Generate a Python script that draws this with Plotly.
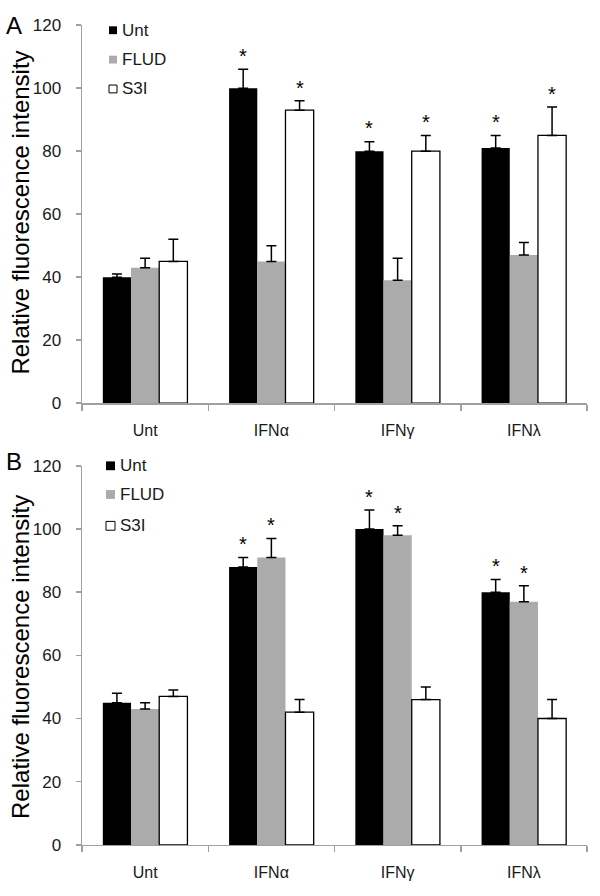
import plotly.graph_objects as go

W, H = 600, 896
FONT = "Liberation Sans, Arial, sans-serif"

categories = ["Unt", "IFNα", "IFNγ", "IFNλ"]
series_names = ["Unt", "FLUD", "S3I"]

# Panel A
a_unt = [40, 100, 80, 81]
a_unt_err = [1, 6, 3, 4]
a_flud = [43, 45, 39, 47]
a_flud_err = [3, 5, 7, 4]
a_s3i = [45, 93, 80, 85]
a_s3i_err = [7, 3, 5, 9]
a_star = [[False, True, True, True], [False, False, False, False], [False, True, True, True]]

# Panel B
b_unt = [45, 88, 100, 80]
b_unt_err = [3, 3, 6, 4]
b_flud = [43, 91, 98, 77]
b_flud_err = [2, 6, 3, 5]
b_s3i = [47, 42, 46, 40]
b_s3i_err = [2, 4, 4, 6]
b_star = [[False, True, True, True], [False, True, True, True], [False, False, False, False]]

y_ticks = [0, 20, 40, 60, 80, 100, 120]

colors = ["#000000", "#ababab", "#ffffff"]
line_w = [0, 0, 1.3]

def px(x):
    return x / W

def py(y):
    return 1 - y / H

X_DOM = [px(82), px(587)]
panels = [
    dict(vals=[a_unt, a_flud, a_s3i], errs=[a_unt_err, a_flud_err, a_s3i_err], stars=a_star,
         ydom=[py(402.7), py(16.5)], xa="x", ya="y", label="A", label_y=17,
         leg_x=109, leg_sq=8, leg_ys=[21.7, 51.7, 81.7], title_y=208),
    dict(vals=[b_unt, b_flud, b_s3i], errs=[b_unt_err, b_flud_err, b_s3i_err], stars=b_star,
         ydom=[py(854), py(466.7)], xa="x2", ya="y2", label="B", label_y=462,
         leg_x=106, leg_sq=9, leg_ys=[466.7, 496, 528], title_y=662),
]

BARGAP = 0.33
fig = go.Figure()
annotations = []
shapes = []

cat_px = (X_DOM[1] - X_DOM[0]) * W / len(categories)
bar_px = cat_px * (1 - BARGAP) / 3

for p in panels:
    for j, name in enumerate(series_names):
        fig.add_trace(go.Bar(
            x=categories, y=p["vals"][j], name=name, xaxis=p["xa"], yaxis=p["ya"],
            marker=dict(color=colors[j], line=dict(color="#000000", width=line_w[j])),
            error_y=dict(type="data", symmetric=False, array=p["errs"][j],
                         arrayminus=[0] * len(categories), color="#000000",
                         thickness=1.5, width=5),
            showlegend=False, hoverinfo="skip",
        ))
        for i, c in enumerate(categories):
            if p["stars"][j][i]:
                annotations.append(dict(
                    x=c, y=p["vals"][j][i] + p["errs"][j][i] + 4.2,
                    xref=p["xa"], yref=p["ya"], text="*", showarrow=False,
                    xshift=(j - 1) * bar_px, yanchor="middle", xanchor="center",
                    font=dict(family=FONT, size=20, color="#000000")))
    # legend
    sq = p["leg_sq"]
    for j, name in enumerate(series_names):
        yc = p["leg_ys"][j]
        shapes.append(dict(type="rect", xref="paper", yref="paper",
                           x0=px(p["leg_x"]), x1=px(p["leg_x"] + sq),
                           y0=py(yc + sq / 2), y1=py(yc - sq / 2),
                           fillcolor=colors[j], line=dict(color="#000000", width=1 if j == 2 else 0)))
        annotations.append(dict(x=px(p["leg_x"] + sq + 3), y=py(yc), xref="paper", yref="paper",
                                text=name, showarrow=False, xanchor="left", yanchor="middle",
                                font=dict(family=FONT, size=17, color="#1a1a1a")))
    # panel label
    annotations.append(dict(x=px(4), y=py(p["label_y"]), xref="paper", yref="paper",
                            text=p["label"], showarrow=False, xanchor="left", yanchor="middle",
                            font=dict(family=FONT, size=24, color="#000000")))
    # y title
    annotations.append(dict(x=px(21), y=py(p["title_y"]), xref="paper", yref="paper",
                            text="Relative fluorescence intensity", showarrow=False,
                            textangle=-90, xanchor="center", yanchor="middle",
                            font=dict(family=FONT, size=24, color="#000000")))

axis_common_y = dict(range=[0, 120], tickvals=y_ticks, showgrid=False, zeroline=False,
                     showline=True, linecolor="#a0a0a0", linewidth=1.5,
                     ticks="outside", ticklen=5, tickcolor="#a0a0a0", tickwidth=1.5,
                     tickfont=dict(family=FONT, size=17, color="#1a1a1a"),
                     ticklabelstandoff=11, fixedrange=True)
axis_common_x = dict(type="category", range=[-0.5, 3.5], showgrid=False, zeroline=False,
                     showline=True, linecolor="#a0a0a0", linewidth=1.5,
                     ticks="outside", ticklen=6, tickcolor="#a0a0a0", tickwidth=1.5,
                     tickson="boundaries",
                     tickfont=dict(family=FONT, size=16, color="#1a1a1a"),
                     ticklabelstandoff=12, fixedrange=True)

fig.update_layout(
    width=W, height=H, margin=dict(l=0, r=0, t=0, b=0),
    paper_bgcolor="white", plot_bgcolor="white",
    barmode="group", bargap=BARGAP, bargroupgap=0,
    xaxis=dict(domain=X_DOM, anchor="y", **axis_common_x),
    yaxis=dict(domain=panels[0]["ydom"], anchor="x", **axis_common_y),
    xaxis2=dict(domain=X_DOM, anchor="y2", **axis_common_x),
    yaxis2=dict(domain=panels[1]["ydom"], anchor="x2", **axis_common_y),
    annotations=annotations, shapes=shapes,
    showlegend=False, hovermode=False,
)

fig.write_html("out.html", config={"displayModeBar": False, "staticPlot": True},
               post_script="document.body.style.margin='0';document.body.style.overflow='hidden';")
